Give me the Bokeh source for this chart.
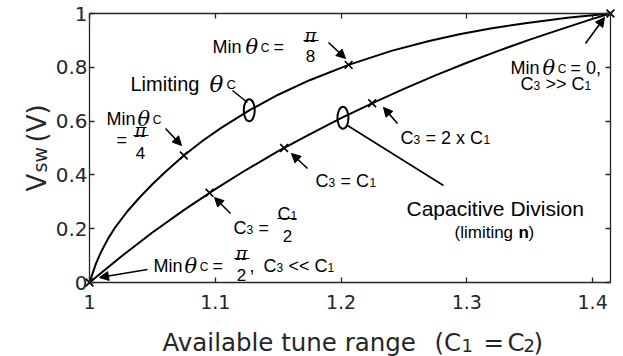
import math
from bokeh.plotting import figure
from bokeh.models import Range1d, LinearAxis, FixedTicker, Label, Arrow, NormalHead
from bokeh.embed import file_html
from bokeh.resources import INLINE

# ---------------- data ----------------
x_ticks = [1.0, 1.1, 1.2, 1.3, 1.4]
x_tick_labels = ["1", "1.1", "1.2", "1.3", "1.4"]
y_ticks = [0.0, 0.2, 0.4, 0.6, 0.8, 1.0]
y_tick_labels = ["0", "0.2", "0.4", "0.6", "0.8", "1"]

# Limiting theta_c curve
tune_limiting = [1.000, 1.0025, 1.005, 1.0075, 1.010, 1.015, 1.020, 1.030, 1.040, 1.050,
                 1.060, 1.075, 1.090, 1.105, 1.127, 1.150, 1.175, 1.206, 1.240, 1.270,
                 1.295, 1.320, 1.348, 1.380, 1.4142]
vsw_limiting = [0.000, 0.035, 0.068, 0.096, 0.121, 0.165, 0.202, 0.264, 0.317, 0.365,
                0.410, 0.472, 0.527, 0.576, 0.640, 0.698, 0.752, 0.809, 0.861, 0.898,
                0.924, 0.945, 0.965, 0.984, 1.000]

# Capacitive division curve
tune_capdiv = [1.000, 1.025, 1.050, 1.075, 1.100, 1.125, 1.150, 1.175, 1.200, 1.225,
               1.250, 1.275, 1.300, 1.325, 1.350, 1.375, 1.400, 1.4142]
vsw_capdiv = [0.000, 0.096, 0.186, 0.269, 0.347, 0.420, 0.488, 0.551, 0.611, 0.667,
              0.720, 0.770, 0.817, 0.861, 0.903, 0.942, 0.980, 1.000]

# marked points
mark_limiting_x = [1.000, 1.075, 1.206, 1.4142]
mark_limiting_y = [0.000, 0.472, 0.809, 1.000]
mark_capdiv_x = [1.0954, 1.1547, 1.2247]
mark_capdiv_y = [0.3333, 0.5000, 0.6667]

# curve-identifying ellipses
ellipse_x = [1.127, 1.2015]
ellipse_y = [0.640, 0.612]

# ---------------- layout (page pixels; the figure sits at the page origin) ----------------
W, H = 623, 356
PL, PR, PT, PB = 89, 610, 13, 282   # data box edges in pixels
XMIN, XMAX, YMIN, YMAX = 1.0, 1.41421, 0.0, 1.0
kx = (PR - PL) / (XMAX - XMIN)
ky = (PB - PT) / (YMAX - YMIN)
x_lo = XMIN - PL / kx
x_hi = XMAX + (W - PR) / kx
y_hi = YMAX + PT / ky
y_lo = YMIN - (H - PB) / ky

p = figure(width=W, height=H, output_backend="svg", toolbar_location=None,
           x_range=Range1d(x_lo, x_hi), y_range=Range1d(y_lo, y_hi), min_border=0)
p.grid.visible = False
p.outline_line_color = None
p.background_fill_color = "white"
p.border_fill_color = "white"

AX = "#262626"

def style_axis(ax, ticks, labels, loc, bounds, standoff=3, size="19px"):
    ax.ticker = FixedTicker(ticks=ticks)
    ax.fixed_location = loc
    ax.bounds = bounds
    ax.major_tick_in = 5
    ax.major_tick_out = 0
    ax.minor_tick_line_color = None
    ax.axis_line_color = AX
    ax.axis_line_width = 1.3
    ax.major_tick_line_color = AX
    ax.major_tick_line_width = 1.3
    ax.axis_label = None
    ax.major_label_overrides = dict(zip(ticks, labels))
    ax.major_label_text_font = "DejaVu Sans"
    ax.major_label_text_font_size = size
    ax.major_label_text_color = AX
    ax.major_label_standoff = standoff

blank_x = [""] * len(x_ticks)
blank_y = [""] * len(y_ticks)
style_axis(p.xaxis[0], x_ticks, x_tick_labels, YMIN, (XMIN, XMAX), 12, "19px")
style_axis(p.yaxis[0], y_ticks, y_tick_labels, XMIN, (YMIN, YMAX), 2, "20px")
top = LinearAxis()
right = LinearAxis()
style_axis(top, x_ticks, blank_x, YMAX, (XMIN, XMAX), 0)
style_axis(right, y_ticks, blank_y, XMAX, (YMIN, YMAX), 0)
p.add_layout(top, "above")
p.add_layout(right, "right")

# ---------------- curves ----------------
p.line(tune_limiting, vsw_limiting, line_color="black", line_width=2)
p.line(tune_capdiv, vsw_capdiv, line_color="black", line_width=2)
p.scatter(mark_limiting_x, mark_limiting_y, marker="x", size=11, line_color="black", line_width=1.7)
p.scatter(mark_capdiv_x, mark_capdiv_y, marker="x", size=11, line_color="black", line_width=1.7)
p.ellipse(x=ellipse_x, y=ellipse_y, width=11, height=22, width_units="screen",
          height_units="screen", fill_color=None, line_color="black", line_width=2)

# ---------------- annotation helpers (pixels -> data) ----------------
def fx(px):
    return XMIN + (px - PL) / kx

def fy(py):
    return YMIN + (PB - py) / ky

SANS = "Liberation Sans"
SERIF = "DejaVu Serif"

def txt(s, px, py, size, font=SANS, style="normal", align="left", angle=0.0, color="black"):
    p.add_layout(Label(x=fx(px), y=fy(py), text=s, text_font=font,
                       text_font_size=f"{size}px", text_font_style=style,
                       text_align=align, text_baseline="alphabetic",
                       angle=angle, text_color=color))

def arrow(x0, y0, x1, y1, head=True):
    end = NormalHead(size=9, fill_color="black", line_color="black", line_width=1) if head else None
    p.add_layout(Arrow(end=end, x_start=fx(x0), y_start=fy(y0), x_end=fx(x1), y_end=fy(y1),
                       line_color="black", line_width=1.6))

def bar(x0, x1, py):
    p.add_layout(Arrow(end=None, x_start=fx(x0), y_start=fy(py), x_end=fx(x1), y_end=fy(py),
                       line_color="black", line_width=1))

def theta_c(px, py, size=18):
    txt("\u03b8", px, py, size + 3, font=SERIF, style="italic")
    txt("C", px + 0.85 * size, py + 1, round(size * 0.66))

def frac_pi(cx, py_num, py_bar, py_den, den):
    txt("\u03c0", cx, py_num, 18, font=SERIF, style="italic", align="center")
    bar(cx - 7, cx + 8, py_bar)
    txt(den, cx, py_den, 17, align="center")

# Min theta_c = pi/8
txt("Min", 212, 46, 18)
theta_c(245, 46)
txt("=", 273, 46, 18)
frac_pi(310, 35, 40, 55, "8")
arrow(328, 42, 345, 58)

# Limiting theta_c
txt("Limiting", 130, 83, 20)
theta_c(209, 83, 20)
arrow(232, 90, 247, 102, head=False)

# Min theta_c = pi/4
txt("Min", 106, 118, 18)
theta_c(137, 118)
txt("=", 116, 139, 18)
frac_pi(140, 130, 135, 152, "4")
arrow(165, 128, 181, 145)

# C3 = C1
txt("C", 315, 180, 18); txt("3", 328, 182, 12); txt("= C", 340, 180, 18); txt("1", 369, 182, 12)
arrow(307, 168, 291, 153)

# C3 = 2 x C1
txt("C", 400, 137, 18); txt("3", 413, 139, 12); txt("= 2 x C", 425, 137, 18); txt("1", 483, 139, 12)
arrow(397, 123, 383, 107)

# C3 = C1 / 2
txt("C", 233, 227, 18); txt("3", 246, 229, 12); txt("=", 258, 227, 18)
txt("C", 277, 213, 18); txt("1", 290, 215, 12)
bar(277, 296, 218)
txt("2", 287, 235, 17, align="center")
arrow(230, 213, 214, 197)

# Min theta_c = pi/2, C3 << C1
txt("Min", 153, 265, 18)
theta_c(184, 265)
txt("=", 212, 265, 18)
frac_pi(241, 253, 258, 274, "2")
txt(",", 249, 265, 18)
txt("C", 263, 265, 18); txt("3", 276, 267, 12); txt("<< C", 288, 265, 18); txt("1", 327, 267, 12)
arrow(147, 269, 99, 277)

# Min theta_c = 0, C3 >> C1
txt("Min", 510, 67, 18)
theta_c(542, 67)
txt("= 0,", 570, 67, 18)
txt("C", 520, 83, 18); txt("3", 533, 85, 12); txt(">> C", 545, 83, 18); txt("1", 584, 85, 12)
arrow(585, 43, 604, 17)

# Capacitive Division (limiting n)
txt("Capacitive Division", 406, 208, 21)
txt("(limiting", 454, 232, 17)
txt("n", 518, 232, 17, style="bold")
txt(")", 528, 232, 17)
arrow(347, 125, 443, 185, head=False)

# ---------------- axis titles ----------------
AXF = "DejaVu Sans"
txt("Available tune range", 162, 342, 24.5, font=AXF, color=AX)
txt("(C", 434, 342, 24.5, font=AXF, color=AX)
txt("1", 461, 345, 18, font=AXF, color=AX)
txt("=", 483, 342, 24.5, font=AXF, color=AX)
txt("C", 507, 342, 24.5, font=AXF, color=AX)
txt("2", 523, 345, 18, font=AXF, color=AX)
txt(")", 533, 342, 24.5, font=AXF, color=AX)

txt("V", 36, 191, 26, font=AXF, angle=math.pi / 2, color=AX)
txt("sw", 39, 172, 19, font=AXF, angle=math.pi / 2, color=AX)
txt("(V)", 36, 142, 26, font=AXF, angle=math.pi / 2, color=AX)

open("out.html", "w").write(file_html(p, INLINE))
